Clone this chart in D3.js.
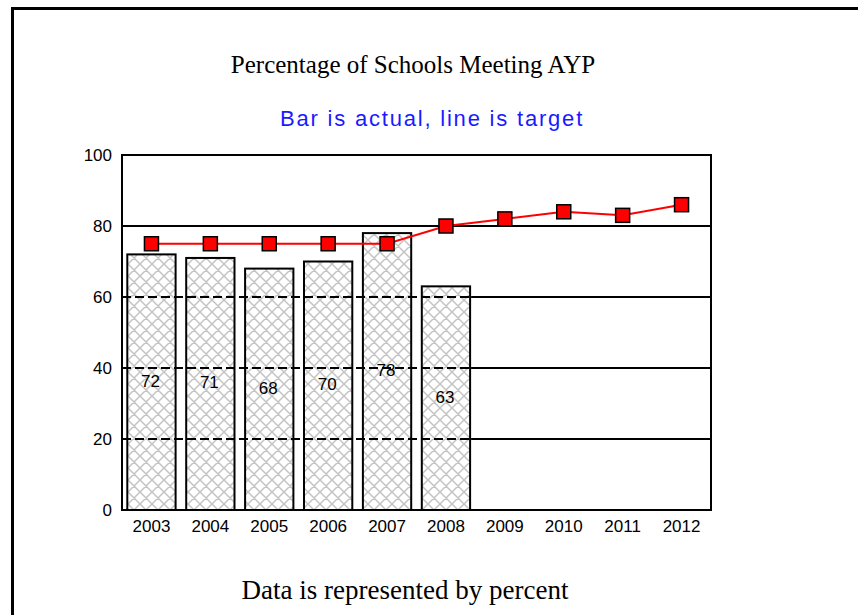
<!DOCTYPE html>
<html>
<head>
<meta charset="utf-8">
<script src="https://d3js.org/d3.v7.min.js"></script>
<style>
  body { margin: 0; background: #fff; }
  svg { display: block; }
</style>
</head>
<body>
<div id="chart"></div>
<script>
// chart data
const years = ["2003", "2004", "2005", "2006", "2007", "2008", "2009", "2010", "2011", "2012"];
const actual = [72, 71, 68, 70, 78, 63];   // bars (only through 2008)
const target = [75, 75, 75, 75, 75, 80, 82, 84, 83, 86];  // line
const yTicks = [0, 20, 40, 60, 80, 100];

const width = 858, height = 615;
const plot = { left: 122, right: 711, top: 155, bottom: 510 };

const svg = d3.select("#chart").append("svg")
  .attr("width", width)
  .attr("height", height);

// hatch pattern for the bars
const defs = svg.append("defs");
const pat = defs.append("pattern")
  .attr("id", "hatch")
  .attr("patternUnits", "userSpaceOnUse")
  .attr("width", 12)
  .attr("height", 12)
  .attr("x", plot.left + 6);
pat.append("rect").attr("width", 12).attr("height", 12).attr("fill", "#fff");
pat.append("path")
  .attr("d", "M0,0L12,12M0,12L12,0M-3,3L3,-3M9,15L15,9M-3,9L3,15M9,-3L15,3")
  .attr("stroke", "#c4c4c4")
  .attr("stroke-width", 1.5)
  .attr("fill", "none");

// outer frame (left + top)
svg.append("path")
  .attr("d", `M12.5,${height}V8.5H${width}`)
  .attr("fill", "none")
  .attr("stroke", "#000")
  .attr("stroke-width", 3);

// titles
svg.append("text")
  .attr("x", 413).attr("y", 73)
  .attr("text-anchor", "middle")
  .style("font-family", "'Liberation Serif', 'Times New Roman', serif")
  .style("font-size", "25px")
  .text("Percentage of Schools Meeting AYP");

svg.append("text")
  .attr("x", 432).attr("y", 126)
  .attr("text-anchor", "middle")
  .style("font-family", "'Liberation Sans', Arial, sans-serif")
  .style("font-size", "22px")
  .style("letter-spacing", "1.8px")
  .attr("fill", "#1a1aff")
  .text("Bar is actual, line is target");

svg.append("text")
  .attr("x", 405).attr("y", 599)
  .attr("text-anchor", "middle")
  .style("font-family", "'Liberation Serif', 'Times New Roman', serif")
  .style("font-size", "27px")
  .text("Data is represented by percent");

// scales
const x = d3.scaleBand()
  .domain(years)
  .range([plot.left, plot.right])
  .paddingInner(0.18)
  .paddingOuter(0.09);

const y = d3.scaleLinear()
  .domain([0, 100])
  .range([plot.bottom, plot.top]);

// bars
svg.append("g")
  .selectAll("rect")
  .data(actual)
  .join("rect")
    .attr("x", (d, i) => x(years[i]))
    .attr("y", d => y(d))
    .attr("width", x.bandwidth())
    .attr("height", d => y(0) - y(d))
    .attr("fill", "url(#hatch)")
    .attr("stroke", "#000")
    .attr("stroke-width", 2);

// gridlines: dashed where they pass through the bars, solid after
const grid = svg.append("g");
yTicks.filter(t => t > 0 && t < 100).forEach(t => {
  let last = -1;
  actual.forEach((v, i) => { if (v >= t) last = i; });
  let xSplit = plot.left;
  if (last >= 0) xSplit = x(years[last]) + x.bandwidth() + 1;
  if (xSplit > plot.left) {
    grid.append("line")
      .attr("x1", plot.left).attr("x2", xSplit)
      .attr("y1", y(t)).attr("y2", y(t))
      .attr("stroke", "#000").attr("stroke-width", 2)
      .attr("stroke-dasharray", "9,4");
  }
  grid.append("line")
    .attr("x1", xSplit).attr("x2", plot.right)
    .attr("y1", y(t)).attr("y2", y(t))
    .attr("stroke", "#000").attr("stroke-width", 2);
});

// plot frame
svg.append("rect")
  .attr("x", plot.left).attr("y", plot.top)
  .attr("width", plot.right - plot.left)
  .attr("height", plot.bottom - plot.top)
  .attr("fill", "none")
  .attr("stroke", "#000")
  .attr("stroke-width", 2);

// bar value labels
svg.append("g")
  .selectAll("text")
  .data(actual)
  .join("text")
    .attr("x", (d, i) => x(years[i]) + x.bandwidth() / 2 - 1)
    .attr("y", d => (y(d) + y(0)) / 2)
    .attr("text-anchor", "middle")
    .attr("dominant-baseline", "middle")
    .style("font-family", "'Liberation Sans', Arial, sans-serif")
    .style("font-size", "17px")
    .text(d => d);

// axes labels
const yAxis = d3.axisLeft(y).tickValues(yTicks).tickSize(0).tickPadding(10);
const gy = svg.append("g").attr("transform", `translate(${plot.left},0)`).call(yAxis);
gy.select(".domain").remove();
gy.selectAll("text")
  .style("font-family", "'Liberation Sans', Arial, sans-serif")
  .style("font-size", "17px")
  .attr("fill", "#000");

const xAxis = d3.axisBottom(x).tickSize(0).tickPadding(10);
const gx = svg.append("g").attr("transform", `translate(0,${plot.bottom})`).call(xAxis);
gx.select(".domain").remove();
gx.selectAll("text")
  .style("font-family", "'Liberation Sans', Arial, sans-serif")
  .style("font-size", "17px")
  .attr("fill", "#000");

// target line
const line = d3.line()
  .x((d, i) => x(years[i]) + x.bandwidth() / 2)
  .y(d => y(d));

svg.append("path")
  .datum(target)
  .attr("d", line)
  .attr("fill", "none")
  .attr("stroke", "#ff0000")
  .attr("stroke-width", 2);

const ms = 14;
svg.append("g")
  .selectAll("rect")
  .data(target)
  .join("rect")
    .attr("x", (d, i) => x(years[i]) + x.bandwidth() / 2 - ms / 2)
    .attr("y", d => y(d) - ms / 2)
    .attr("width", ms)
    .attr("height", ms)
    .attr("fill", "#ff0000")
    .attr("stroke", "#000")
    .attr("stroke-width", 1.5);
</script>
</body>
</html>
